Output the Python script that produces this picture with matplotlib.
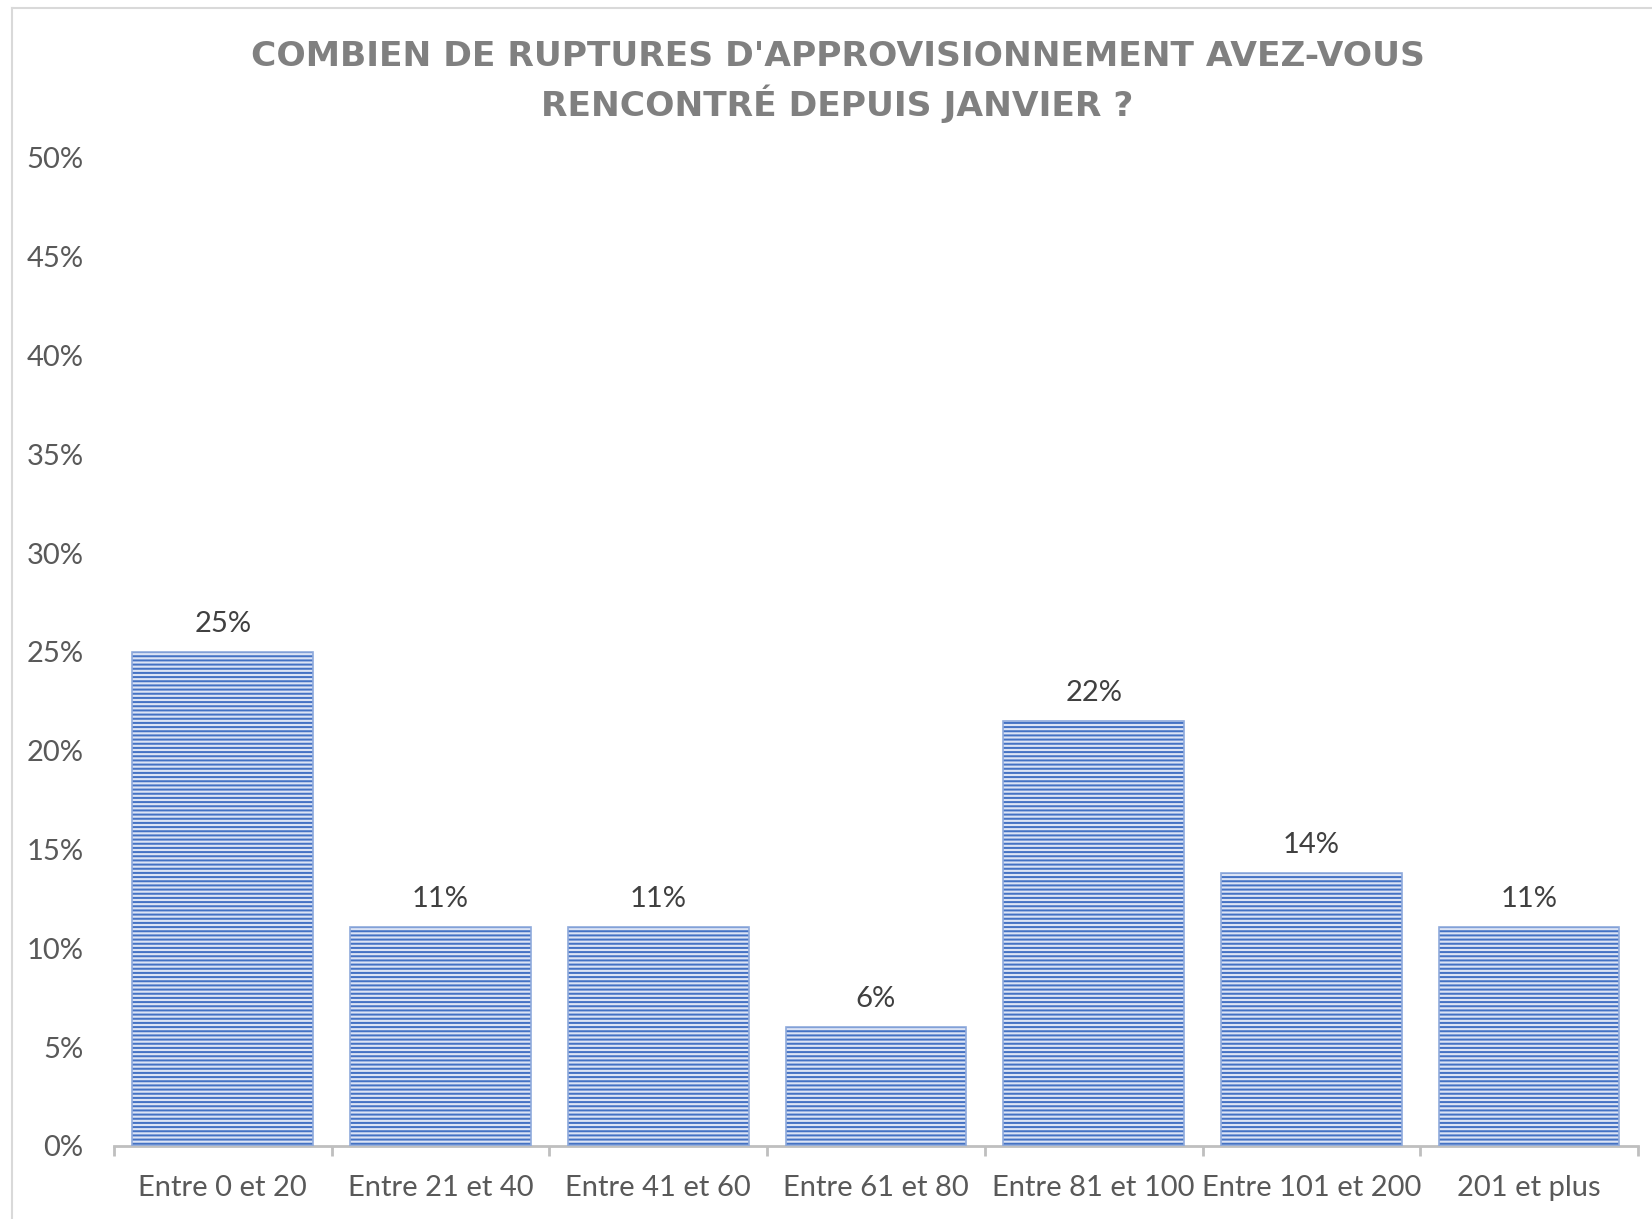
import matplotlib
matplotlib.use("Agg")
from matplotlib import pyplot as plt
from matplotlib.lines import Line2D

categories = ["Entre 0 et 20", "Entre 21 et 40", "Entre 41 et 60", "Entre 61 et 80",
              "Entre 81 et 100", "Entre 101 et 200", "201 et plus"]
values = [25.0, 11.1, 11.1, 6.0, 21.5, 13.8, 11.1]
value_labels = ["25%", "11%", "11%", "6%", "22%", "14%", "11%"]
y_ticks = [0, 5, 10, 15, 20, 25, 30, 35, 40, 45, 50]
title = "COMBIEN DE RUPTURES D'APPROVISIONNEMENT AVEZ-VOUS\nRENCONTRÉ DEPUIS JANVIER ?"

plt.rcParams['font.family'] = ['Lato', 'DejaVu Sans']
plt.rcParams['hatch.linewidth'] = 1.45

fig = plt.figure(figsize=(16.52, 12.19), dpi=100)
ax = fig.add_axes([0.069, 0.0599, 0.9225, 0.8105])

x = list(range(len(categories)))
# striped fill: the hatch takes the edge colour, so the outline is drawn separately
ax.bar(x, values, width=0.83, color='#DCE4F5', edgecolor='#4472C4', linewidth=0,
       hatch='----', zorder=2)
ax.bar(x, values, width=0.83, fill=False, edgecolor='#8FAADC', linewidth=1.2, zorder=3)

# value labels above bars
for xi, v, lab in zip(x, values, value_labels):
    ax.annotate(lab, (xi, v), xytext=(0, 14.5), textcoords='offset points',
                ha='center', va='baseline', fontsize=21, color='#404040')

ax.set_xlim(-0.5, len(categories) - 0.5)
ax.set_ylim(0, 50)
ax.set_yticks(y_ticks)
ax.set_yticklabels([f"{t}%" for t in y_ticks])
ax.set_xticks(x)
ax.set_xticklabels(categories)
ax.set_xticks([i - 0.5 for i in range(len(categories) + 1)], minor=True)

ax.tick_params(axis='x', which='major', length=0, pad=21, labelsize=21, labelcolor='#595959')
ax.tick_params(axis='x', which='minor', length=7.5, width=2, color='#BFBFBF', direction='out')
ax.tick_params(axis='y', length=0, pad=22, labelsize=21, labelcolor='#595959')

for s in ['top', 'right', 'left']:
    ax.spines[s].set_visible(False)
ax.spines['bottom'].set_color('#BFBFBF')
ax.spines['bottom'].set_linewidth(2)

fig.text(0.507, 0.967, title, ha='center', va='top', fontsize=24.8, fontweight='bold',
         family='DejaVu Sans', color='#808080', linespacing=1.36)

# chart border (cut at right and bottom)
fig.add_artist(Line2D([12 / 1652, 12 / 1652], [0, 1 - 8 / 1219], transform=fig.transFigure,
                      color='#D9D9D9', linewidth=1.5))
fig.add_artist(Line2D([12 / 1652, 1], [1 - 8 / 1219, 1 - 8 / 1219], transform=fig.transFigure,
                      color='#D9D9D9', linewidth=1.5))

fig.savefig('out.png', dpi=100, facecolor='white')
